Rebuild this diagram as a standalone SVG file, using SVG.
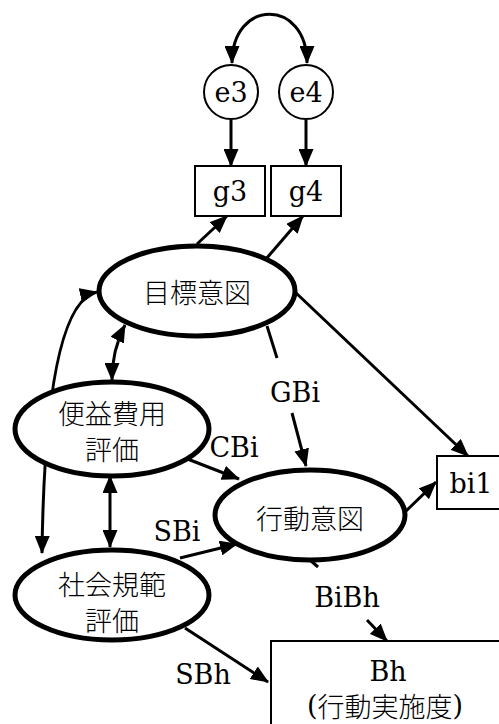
<svg xmlns="http://www.w3.org/2000/svg" width="499" height="724" viewBox="0 0 499 724">
<style>
text{fill:#000;text-anchor:middle;dominant-baseline:central}
.lat{font-family:"DejaVu Serif","Liberation Serif",serif;font-size:27px}
.jp{font-family:"Noto Sans CJK JP",sans-serif;font-size:27px;font-weight:300}
.par{font-family:"DejaVu Serif","Liberation Serif",serif;font-weight:normal}
.ell{fill:#fff;stroke:#000;stroke-width:5}
.box{fill:#fff;stroke:#000;stroke-width:2}
.cir{fill:#fff;stroke:#000;stroke-width:2}
.con{fill:none;stroke:#000;stroke-width:3}
</style>
<defs>
<marker id="ah" markerUnits="userSpaceOnUse" markerWidth="18" markerHeight="15" refX="17" refY="7.5" orient="auto-start-reverse" viewBox="0 0 18 15">
<path d="M0,0 L18,7.5 L0,15 z" fill="#000"/>
</marker>
</defs>
<g id="connectors">
<path class="con" d="M232,63 C232,-2 307,-2 307,63" marker-start="url(#ah)" marker-end="url(#ah)"/>
<line class="con" x1="231" y1="120" x2="231" y2="166" marker-end="url(#ah)"/>
<line class="con" x1="306" y1="120" x2="306" y2="166" marker-end="url(#ah)"/>
<line class="con" x1="197" y1="244" x2="227" y2="216" marker-end="url(#ah)"/>
<line class="con" x1="266" y1="259" x2="303" y2="216" marker-end="url(#ah)"/>
<line class="con" x1="295" y1="292" x2="468" y2="456" marker-end="url(#ah)"/>
<line class="con" x1="267" y1="326" x2="277" y2="358"/>
<line class="con" x1="292" y1="413" x2="306" y2="466" marker-end="url(#ah)"/>
<line class="con" x1="185" y1="458" x2="239" y2="479" marker-end="url(#ah)"/>
<line class="con" x1="406" y1="511" x2="436" y2="482" marker-end="url(#ah)"/>
<line class="con" x1="180" y1="558" x2="237" y2="544" marker-end="url(#ah)"/>
<line class="con" x1="310" y1="560" x2="318" y2="567"/>
<line class="con" x1="367" y1="620" x2="387" y2="641" marker-end="url(#ah)"/>
<line class="con" x1="185" y1="628" x2="268" y2="682" marker-end="url(#ah)"/>
<path class="con" d="M112,380 Q112,350 125,325" marker-start="url(#ah)" marker-end="url(#ah)"/>
<line class="con" x1="110" y1="476" x2="110" y2="547" marker-start="url(#ah)" marker-end="url(#ah)"/>
<path class="con" d="M42,553 C44,400 60,300 97,292" marker-start="url(#ah)" marker-end="url(#ah)"/>
</g>
<g id="e3"><circle class="cir" cx="231" cy="92" r="27"/><text class="lat" x="231" y="92">e3</text></g>
<g id="e4"><circle class="cir" cx="306" cy="92" r="27"/><text class="lat" x="306" y="92">e4</text></g>
<g id="g3"><rect class="box" x="195" y="166" width="70" height="50"/><text class="lat" x="230" y="191">g3</text></g>
<g id="g4"><rect class="box" x="271" y="166" width="70" height="50"/><text class="lat" x="306" y="191">g4</text></g>
<g id="goal"><ellipse class="ell" cx="197" cy="291" rx="98" ry="45"/><text class="jp" x="197" y="291">目標意図</text></g>
<g id="cost"><ellipse class="ell" cx="112" cy="429" rx="97" ry="47"/><text class="jp" x="112" y="412">便益費用</text><text class="jp" x="112" y="448">評価</text></g>
<g id="intent"><ellipse class="ell" cx="310" cy="515" rx="95" ry="45"/><text class="jp" x="310" y="517">行動意図</text></g>
<g id="norm"><ellipse class="ell" cx="112" cy="595" rx="97" ry="45"/><text class="jp" x="112" y="583">社会規範</text><text class="jp" x="112" y="619">評価</text></g>
<g id="bi1"><rect class="box" x="437" y="456" width="70" height="53"/><text class="lat" x="471" y="483">bi1</text></g>
<g id="Bh"><rect class="box" x="271" y="641" width="240" height="100"/><text class="lat" x="388" y="671">Bh</text><text class="jp" x="385" y="705"><tspan class="par">(</tspan>行動実施度<tspan class="par">)</tspan></text></g>
<g id="labels">
<text class="lat" x="295" y="392">GBi</text>
<text class="lat" x="234" y="447">CBi</text>
<text class="lat" x="177" y="531">SBi</text>
<text class="lat" x="347" y="597">BiBh</text>
<text class="lat" x="203" y="674">SBh</text>
</g>
</svg>
